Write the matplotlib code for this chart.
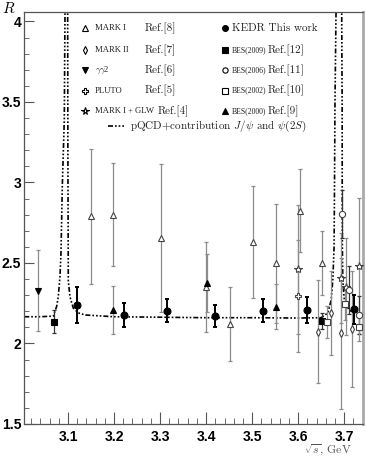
import matplotlib
matplotlib.use("Agg")
import matplotlib.pyplot as plt
from matplotlib.ticker import MultipleLocator

# ── Data ──────────────────────────────────────────────────────────────────────
# KEDR, this work
kedr_x   = [3.119, 3.222, 3.315, 3.420, 3.523, 3.620, 3.721]
kedr_r   = [2.239, 2.177, 2.204, 2.171, 2.204, 2.208, 2.212]
kedr_err = [0.110, 0.075, 0.070, 0.070, 0.070, 0.080, 0.090]

# MARK I, Ref.[8]
mk1_x   = [3.149, 3.198, 3.301, 3.400, 3.452, 3.501, 3.552, 3.603, 3.652]
mk1_r   = [2.790, 2.800, 2.653, 2.353, 2.121, 2.630, 2.498, 2.825, 2.498]
mk1_err = [0.420, 0.320, 0.460, 0.280, 0.230, 0.350, 0.370, 0.260, 0.200]

# MARK II, Ref.[7]
mk2_x   = [3.643, 3.672, 3.693, 3.717]
mk2_r   = [2.073, 2.188, 2.063, 2.088]
mk2_err = [0.320, 0.260, 0.470, 0.360]

# gamma gamma 2, Ref.[6]
gg2_x   = [3.034]
gg2_r   = [2.328]
gg2_err = [0.250]

# PLUTO, Ref.[5]
pluto_x   = [3.600]
pluto_r   = [2.295]
pluto_err = [0.350]

# MARK I + GLW, Ref.[4]
glw_x   = [3.599, 3.693, 3.705, 3.732]
glw_r   = [2.461, 2.405, 2.353, 2.481]
glw_err = [0.400, 0.280, 0.300, 0.420]

# BES(2009), Ref.[12]
bes09_x   = [3.070, 3.652]
bes09_r   = [2.134, 2.142]
bes09_err = [0.072, 0.050]

# BES(2006), Ref.[11]
bes06_x   = [3.695, 3.710, 3.733]
bes06_r   = [2.804, 2.330, 2.177]
bes06_err = [0.150, 0.150, 0.120]

# BES(2002), Ref.[10]
bes02_x   = [3.662, 3.702, 3.733]
bes02_r   = [2.135, 2.245, 2.104]
bes02_err = [0.100, 0.100, 0.090]

# BES(2000), Ref.[9]
bes00_x   = [3.198, 3.401, 3.552]
bes00_r   = [2.208, 2.378, 2.229]
bes00_err = [0.150, 0.180, 0.140]

# pQCD + J/psi and psi(2S) contribution
curve_x = [3.005, 3.040, 3.068, 3.0754, 3.0789, 3.0826, 3.0848, 3.0863, 3.0876,
           3.0898, 3.0920, 3.0935, 3.0950, 3.0985, 3.0993, 3.0998, 3.1007, 3.1043,
           3.1115, 3.1224, 3.137, 3.200, 3.300, 3.400, 3.500, 3.600, 3.650,
           3.6646, 3.6717, 3.6754, 3.678, 3.679, 3.680, 3.682, 3.684, 3.694,
           3.6955, 3.6957, 3.696, 3.697, 3.700, 3.710, 3.725, 3.741]
curve_r = [2.166, 2.166, 2.170, 2.230, 2.290, 2.415, 2.560, 2.770, 2.970,
           3.180, 3.390, 4.060, 4.400, 4.400, 4.060, 3.200, 2.390, 2.290,
           2.220, 2.190, 2.177, 2.166, 2.163, 2.160, 2.160, 2.158, 2.160,
           2.190, 2.270, 2.400, 2.600, 3.000, 3.500, 4.000, 4.400, 4.400,
           3.500, 3.000, 2.600, 2.390, 2.280, 2.210, 2.180, 2.170]

GREY = "#8c8c8c"
DARK = "#555555"
TXT  = "#222222"
SERIF = "cmr10"
SMALL = "Liberation Serif"
DASHDOT = (0, (3, 1.2, 1, 1.2, 1, 1.2, 1, 1.2))
plt.rcParams["mathtext.fontset"] = "cm"
plt.rcParams["axes.formatter.use_mathtext"] = True

fig = plt.figure(figsize=(3.66, 4.59), dpi=100)
ax = fig.add_axes([0.0656, 0.0763, 0.9264, 0.8977])

ax.plot(curve_x, curve_r, color="black", lw=1.2, linestyle=DASHDOT, zorder=1)

def series(x, r, err, marker, face, edge, ecol, ms=4.5, lw=0.9, z=3):
    ax.errorbar(x, r, yerr=err, fmt="none", ecolor=ecol, elinewidth=lw,
                capsize=1.5, capthick=lw, zorder=z - 1)
    ax.plot(x, r, linestyle="none", marker=marker, ms=ms, mfc=face,
            mec=edge, mew=0.8, zorder=z)

series(mk1_x, mk1_r, mk1_err, "^", "white", "#444444", GREY)
series(mk2_x, mk2_r, mk2_err, "d", "white", "#444444", GREY, ms=4)
series(gg2_x, gg2_r, gg2_err, "v", "black", "black", GREY)
series(pluto_x, pluto_r, pluto_err, "P", "white", "#444444", GREY)
series(glw_x, glw_r, glw_err, "*", "white", "#444444", GREY, ms=6)
series(bes09_x, bes09_r, bes09_err, "s", "black", "black", "#333333", ms=4.2)
series(bes06_x, bes06_r, bes06_err, "o", "white", "#444444", "#333333")
series(bes02_x, bes02_r, bes02_err, "s", "white", "#444444", GREY, ms=4.2)
series(bes00_x, bes00_r, bes00_err, "^", "black", "black", GREY)
series(kedr_x, kedr_r, kedr_err, "o", "black", "black", "black", ms=5, lw=1.4, z=6)

ax.set_xlim(3.0045, 3.741)
ax.set_ylim(1.5, 4.059)
ax.xaxis.set_minor_locator(MultipleLocator(0.02))
ax.yaxis.set_minor_locator(MultipleLocator(0.1))
ax.tick_params(which="both", direction="in", color=DARK, top=False, right=False,
               labelsize=10)
ax.tick_params(axis="x", which="major", length=9, pad=4)
ax.tick_params(axis="x", which="minor", length=4.5)
ax.tick_params(axis="y", which="major", length=7, pad=2)
ax.tick_params(axis="y", which="minor", length=3.6)
ax.set_xticks([3.1, 3.2, 3.3, 3.4, 3.5, 3.6, 3.7])
ax.set_yticks([1.5, 2, 2.5, 3, 3.5, 4])
ax.set_xticklabels(["3.1", "3.2", "3.3", "3.4", "3.5", "3.6", "3.7"])
ax.set_yticklabels(["1.5", "2", "2.5", "3", "3.5", "4"])
for lab in ax.get_xticklabels() + ax.get_yticklabels():
    lab.set_fontfamily("Liberation Sans")
    lab.set_fontweight("bold")
for side in ["left", "bottom", "top"]:
    ax.spines[side].set_color(DARK)
    ax.spines[side].set_linewidth(0.9)
ax.spines["right"].set_color("#aaaaaa")
ax.spines["right"].set_linewidth(2)

fig.text(0.006, 0.998, "$R$", fontsize=11, ha="left", va="top")
fig.text(0.962, 0.002, r"$\sqrt{s}$, GeV", fontsize=8.5, ha="right", va="bottom",
         color="#555555", family=SERIF)

# ── Legend, drawn by hand in axes fraction ─────────────────────────────────────
tr = ax.transAxes
def leg_mark(x, y, marker, face, edge, ms=4):
    ax.plot([x], [y], transform=tr, marker=marker, ms=ms, mfc=face, mec=edge,
            mew=0.8, linestyle="none", clip_on=False, zorder=10)

left_rows = [("^", "white", "black", "MARK I", "Ref.[8]", 4.2),
             ("d", "white", "black", "MARK II", "Ref.[7]", 3.8),
             ("v", "black", "black", r"$\gamma\gamma$2", "Ref.[6]", 4.2),
             ("P", "white", "black", "PLUTO", "Ref.[5]", 4.2),
             ("*", "white", "black", "MARK I + GLW", "Ref.[4]", 5.5)]
right_rows = [("o", "black", "black", "KEDR This work", None, 4.2),
              ("s", "black", "black", "BES(2009)", "Ref.[12]", 3.8),
              ("o", "white", "black", "BES(2006)", "Ref.[11]", 3.8),
              ("s", "white", "black", "BES(2002)", "Ref.[10]", 3.8),
              ("^", "black", "black", "BES(2000)", "Ref.[9]", 3.8)]
rows_y = [0.960, 0.908, 0.858, 0.809, 0.760]
for (m, fc, ec, name, ref, ms), y in zip(left_rows, rows_y):
    leg_mark(0.181, y, m, fc, ec, ms)
    ax.text(0.208, y, name, transform=tr, fontsize=6.2, family=SMALL,
            va="center", color=TXT)
    ref_x = 0.393 if name.startswith("MARK I +") else 0.357
    ax.text(ref_x, y, ref, transform=tr, fontsize=8, family=SERIF,
            va="center", color=TXT)
for (m, fc, ec, name, ref, ms), y in zip(right_rows, rows_y):
    leg_mark(0.593, y, m, fc, ec, ms)
    if ref is None:
        ax.text(0.614, y, name, transform=tr, fontsize=8, family=SERIF,
                va="center", color=TXT)
    else:
        ax.text(0.614, y, name, transform=tr, fontsize=5.6, family=SMALL,
                va="center", color=TXT)
        ax.text(0.719, y, ref, transform=tr, fontsize=8, family=SERIF,
                va="center", color=TXT)

ax.plot([0.248, 0.298], [0.722, 0.722], transform=tr, color="black", lw=1.2,
        linestyle=DASHDOT, clip_on=False)
ax.text(0.313, 0.722, r"pQCD+contribution $J/\psi$ and $\psi(2S)$",
        transform=tr, fontsize=8, family=SERIF, va="center", color=TXT)

fig.savefig("out.png", dpi=100)
